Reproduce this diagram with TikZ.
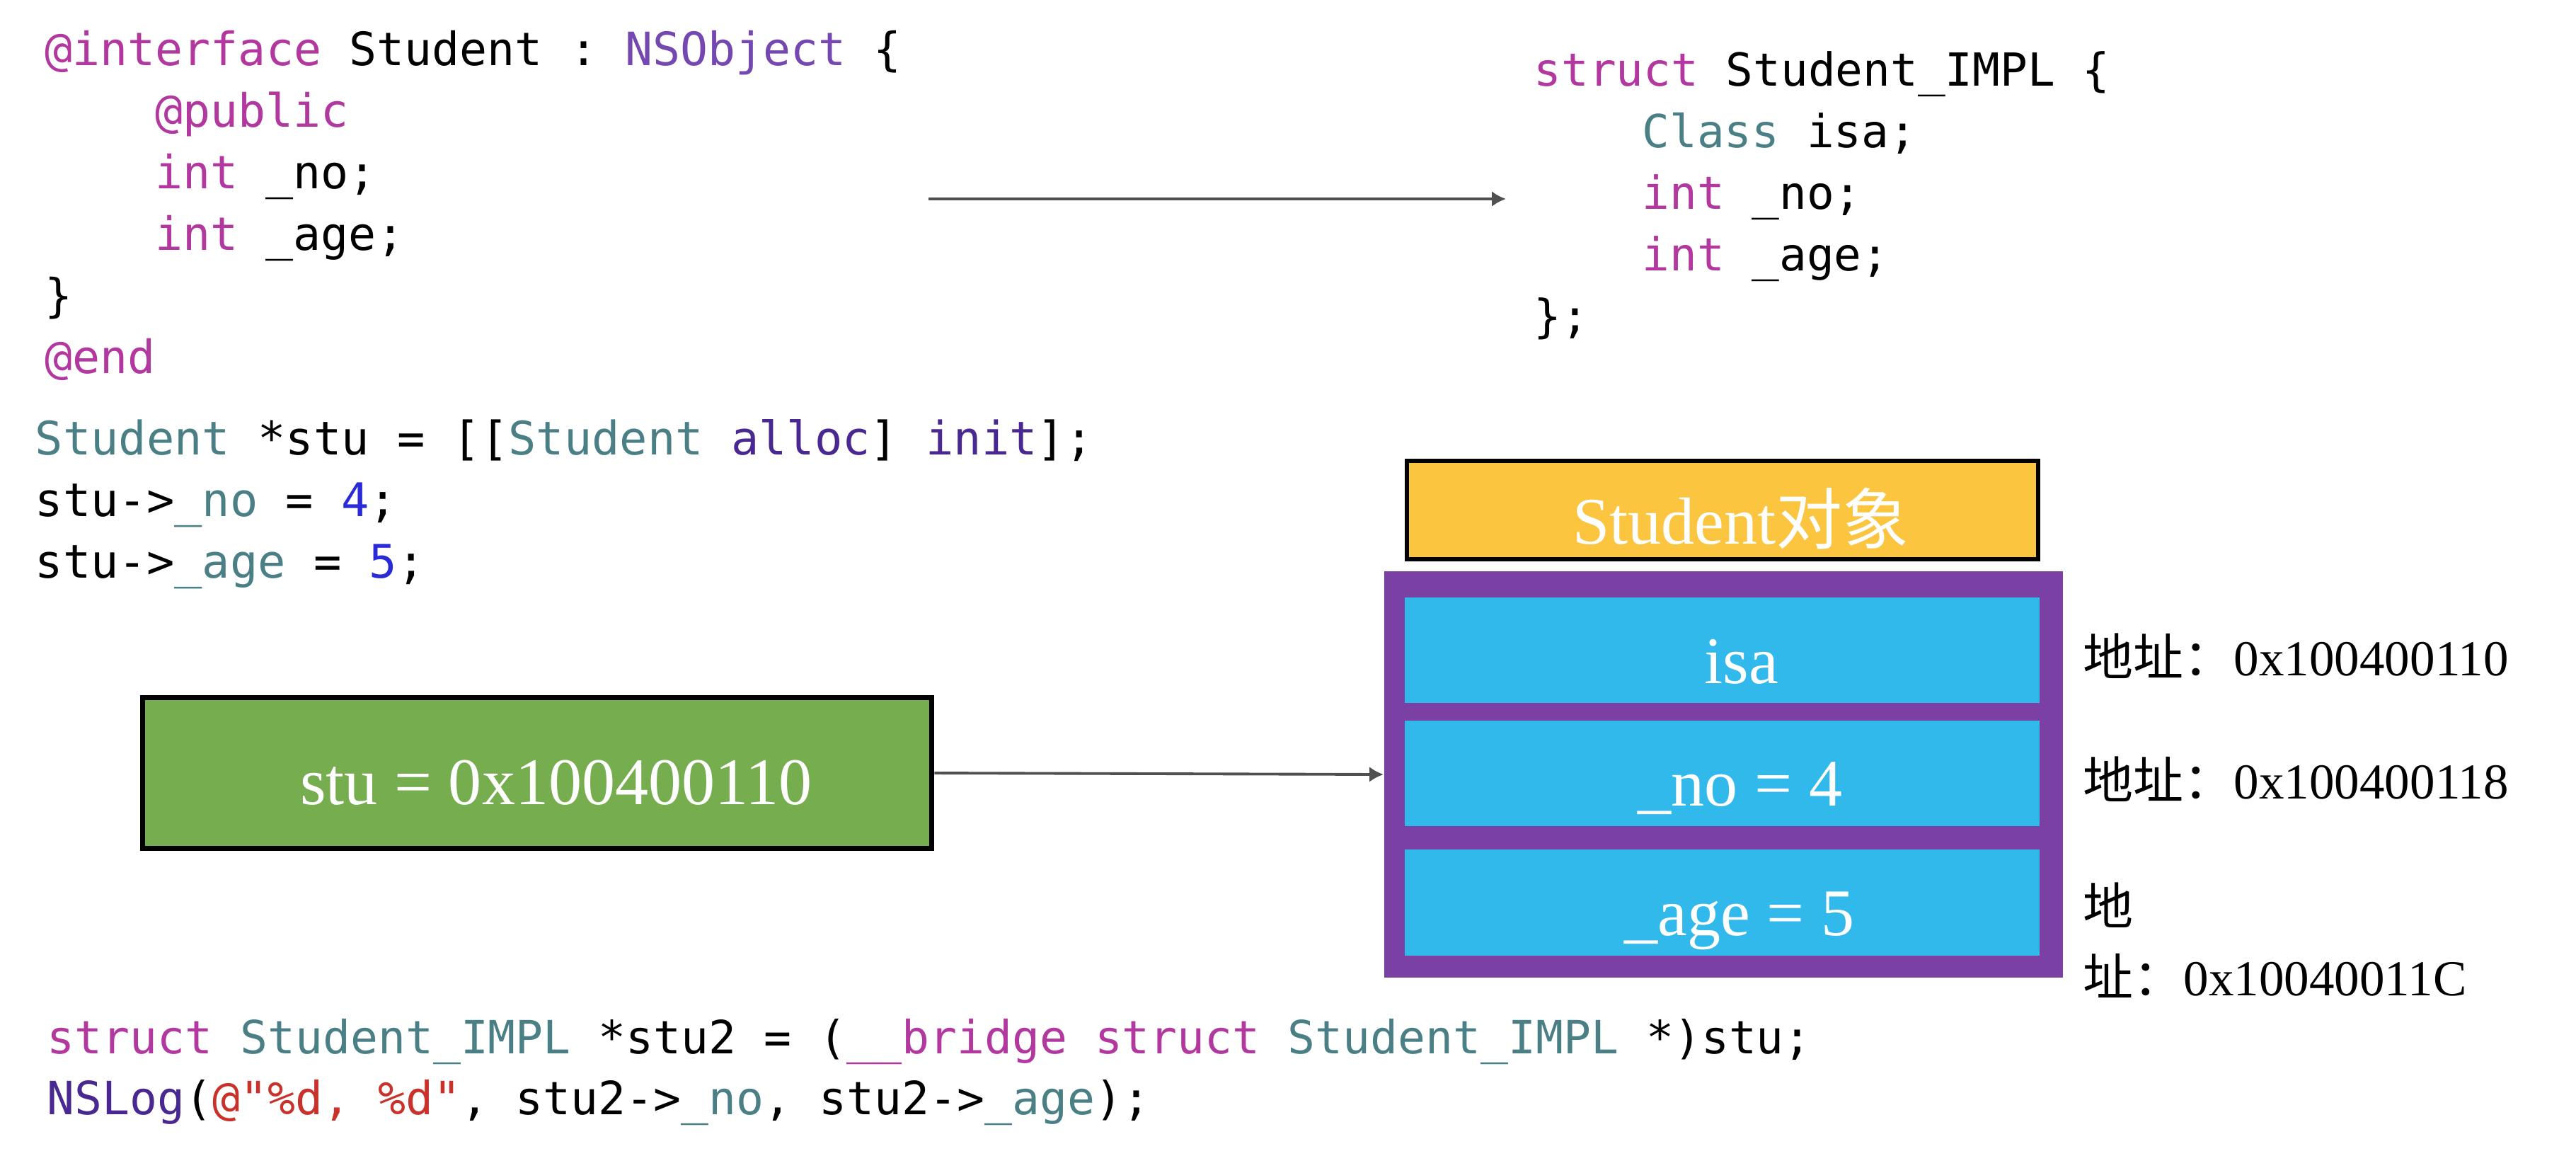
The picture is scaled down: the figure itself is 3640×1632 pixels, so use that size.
\documentclass[tikz,border=0pt]{standalone}
\usepackage{fontspec}
\usepackage{xcolor}
\setmainfont{Liberation Serif}
\setmonofont{DejaVu Sans Mono}
\newfontfamily\cjk{Noto Sans CJK SC}
\usetikzlibrary{arrows.meta}
\definecolor{kwc}{HTML}{B2379F}
\definecolor{clsc}{HTML}{7547B0}
\definecolor{tealc}{HTML}{4A7F86}
\definecolor{methc}{HTML}{4A2891}
\definecolor{numc}{HTML}{2A2AD6}
\definecolor{strc}{HTML}{C8322A}
\definecolor{yellowc}{HTML}{FCC540}
\definecolor{purplec}{HTML}{7B40A3}
\definecolor{bluec}{HTML}{31B9EC}
\definecolor{greenc}{HTML}{76AD4F}
\definecolor{arrc}{HTML}{505050}
\newcommand\ckw[1]{\textcolor{kwc}{#1}}
\newcommand\ccls[1]{\textcolor{clsc}{#1}}
\newcommand\cteal[1]{\textcolor{tealc}{#1}}
\newcommand\cmeth[1]{\textcolor{methc}{#1}}
\newcommand\cnum[1]{\textcolor{numc}{#1}}
\newcommand\cstr[1]{\textcolor{strc}{#1}}
\begin{document}
\begin{tikzpicture}[x=0.01cm,y=-0.01cm,
  codeA/.style={anchor=base west,inner sep=0pt,font=\ttfamily\fontsize{18.44}{22}\selectfont},
  codeB/.style={anchor=base west,inner sep=0pt,font=\ttfamily\fontsize{18.3}{22}\selectfont},
  codeC/.style={anchor=base west,inner sep=0pt,font=\ttfamily\fontsize{18.58}{22}\selectfont},
  codeD/.style={anchor=base west,inner sep=0pt,font=\ttfamily\fontsize{18.4}{22}\selectfont},
  bigtext/.style={anchor=base,inner sep=0pt,text=white,font=\fontsize{26.75}{30}\selectfont},
  addr/.style={anchor=base west,inner sep=0pt,font=\fontsize{20.2}{24}\selectfont},
  cell/.style={fill=bluec,draw=none,minimum width=8.97cm,minimum height=1.49cm,inner sep=0pt},
  arr/.style={draw=arrc,line width=1.1pt,-{Latex[length=0.2cm,width=0.22cm]}}]
\useasboundingbox (0,0) rectangle (3640,1632);
% left code block
\node[codeA] (l1) at (63,92) {\ckw{@interface} Student : \ccls{NSObject} \{};
\node[codeA] (l2) at (219,179) {\ckw{@public}};
\node[codeA] (l3) at (219,266) {\ckw{int} \_no;};
\node[codeA] (l4) at (219,353) {\ckw{int} \_age;};
\node[codeA] (l5) at (63,440) {\}};
\node[codeA] (l6) at (63,527) {\ckw{@end}};
% right code block
\node[codeB] (r1) at (2167,121) {\ckw{struct} Student\_IMPL \{};
\node[codeB] (r2) at (2320,208) {\cteal{Class} isa;};
\node[codeB] (r3) at (2320,295) {\ckw{int} \_no;};
\node[codeB] (r4) at (2320,382) {\ckw{int} \_age;};
\node[codeB] (r5) at (2167,469) {\};};
% middle code block
\node[codeC] (m1) at (49,642) {\cteal{Student} *stu = [[\cteal{Student} \cmeth{alloc}] \cmeth{init}];};
\node[codeC] (m2) at (49,729) {stu->\cteal{\_no} = \cnum{4};};
\node[codeC] (m3) at (49,816) {stu->\cteal{\_age} = \cnum{5};};
% bottom code block
\node[codeD] (b1) at (66,1488) {\ckw{struct} \cteal{Student\_IMPL} *stu2 = (\ckw{\_\_bridge struct} \cteal{Student\_IMPL} *)stu;};
\node[codeD] (b2) at (66,1574) {\cmeth{NSLog}(\cstr{@"\%d, \%d"}, stu2->\cteal{\_no}, stu2->\cteal{\_age});};
% arrow top
\coordinate (a1s) at (1312,281);
\coordinate (a1e) at (2128,281);
\draw[arr] (a1s) -- (a1e);
% yellow header
\node[fill=yellowc,draw=black,line width=1.7pt,minimum width=8.92cm,minimum height=1.39cm,inner sep=0pt] (hdr) at (2434,720.5) {};
\node[bigtext] (hdrt) at (2460,768) {Student{\cjk 对象}};
% purple frame
\node[fill=purplec,draw=none,minimum width=9.59cm,minimum height=5.74cm,inner sep=0pt] (frame) at (2435.5,1094) {};
\node[cell] (c1) at (2433.5,918.5) {};
\node[cell] (c2) at (2433.5,1092.5) {};
\node[cell] (c3) at (2433.5,1275) {};
\node[bigtext] (c1t) at (2461,965) {isa};
\node[bigtext] (c2t) at (2459,1138) {\_no = 4};
\node[bigtext] (c3t) at (2458,1321) {\_age = 5};
% addresses
\node[addr] (ad1) at (2943,954) {{\cjk 地址：}0x100400110};
\node[addr] (ad2) at (2943,1128) {{\cjk 地址：}0x100400118};
\node[addr] (ad3a) at (2943,1306) {{\cjk 地}};
\node[addr] (ad3b) at (2943,1406) {{\cjk 址：}0x10040011C};
% green box
\node[fill=greenc,draw=black,line width=2pt,minimum width=11.15cm,minimum height=2.13cm,inner sep=0pt] (stu) at (759,1092) {};
\node[bigtext] (stut) at (786,1136) {stu = 0x100400110};
\draw[arr] (stu.east) -- (frame.west);
\end{tikzpicture}
\end{document}
